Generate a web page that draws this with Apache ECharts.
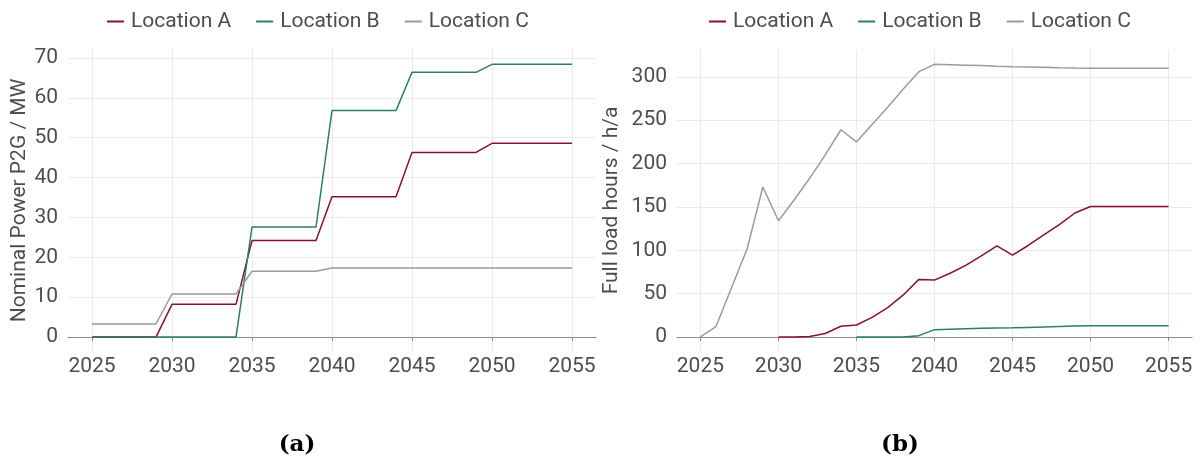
<!DOCTYPE html>
<html><head><meta charset="utf-8">
<script src="https://cdn.jsdelivr.net/npm/echarts@6/dist/echarts.min.js"></script>
<style>html,body{margin:0;padding:0;background:#fff;}#c{width:1200px;height:466px;}</style>
</head><body><div id="c"></div>
<script>
const years = [2025,2026,2027,2028,2029,2030,2031,2032,2033,2034,2035,2036,2037,2038,2039,2040,2041,2042,2043,2044,2045,2046,2047,2048,2049,2050,2051,2052,2053,2054,2055];
const seriesNames = ['Location A','Location B','Location C'];
const xTicks = [2025,2030,2035,2040,2045,2050,2055];
const powerTicks = [0,10,20,30,40,50,60,70];
const hoursTicks = [0,50,100,150,200,250,300];

// Nominal Power P2G / MW
const powerA = [0,0,0,0,0, 8.2,8.2,8.2,8.2,8.2, 24.2,24.2,24.2,24.2,24.2, 35.2,35.2,35.2,35.2,35.2, 46.3,46.3,46.3,46.3,46.3, 48.6,48.6,48.6,48.6,48.6,48.6];
const powerB = [0,0,0,0,0, 0,0,0,0,0, 27.6,27.6,27.6,27.6,27.6, 56.8,56.8,56.8,56.8,56.8, 66.4,66.4,66.4,66.4,66.4, 68.4,68.4,68.4,68.4,68.4,68.4];
const powerC = [3.3,3.3,3.3,3.3,3.3, 10.8,10.8,10.8,10.8,10.8, 16.5,16.5,16.5,16.5,16.5, 17.3,17.3,17.3,17.3,17.3, 17.3,17.3,17.3,17.3,17.3, 17.3,17.3,17.3,17.3,17.3,17.3];

// Full load hours / h/a
const hoursA = [null,null,null,null,null, 0,0,0.5,4,12.3, 13.8,22.6,33.8,48.5,66.4, 65.6,73.5,82.5,93.6,105, 94.5,105.5,117.8,129.5,143, 150.4,150.4,150.4,150.4,150.4,150.4];
const hoursB = [null,null,null,null,null, null,null,null,null,null, 0,0,0,0,1.5, 8.4,9,9.5,10,10.4, 10.5,11,11.5,12,12.5, 12.8,12.8,12.8,12.8,12.8,12.8];
const hoursC = [0,12,57,102,173, 134,158,183,210,239, 225,245,265,286,306, 314.5,314,313.5,313,312.3, 311.8,311.5,311,310.5,310.2, 310,310,310,310,310,310];

const colors = ['#85132a','#2b7d6d','#9b9b9b'];
const txt = '#4d4d4d';
const font = 'Roboto';
const fs = 21;

function pairs(vals){ return years.map((y,i)=>[y, vals[i]]); }

function xAxis(gi){
  return {
    type:'value', gridIndex:gi, min:2023.5, max:2056.5,
    axisLine:{show:true, lineStyle:{color:'#8c8c8c', width:1.2}},
    axisTick:{show:true, length:4, lineStyle:{color:'#8c8c8c'}, customValues:xTicks},
    axisLabel:{color:txt, fontFamily:font, fontSize:fs, margin:5, customValues:xTicks, formatter:v=>String(v)},
    splitLine:{show:true, lineStyle:{color:'#ebebeb', width:1}}
  };
}
function yAxis(gi, min, max, ticks, name, gap){
  return {
    type:'value', gridIndex:gi, min:min, max:max,
    name:name, nameLocation:'middle', nameGap:gap,
    nameTextStyle:{color:txt, fontFamily:font, fontSize:fs},
    axisLine:{show:false}, axisTick:{show:false, customValues:ticks},
    axisLabel:{color:txt, fontFamily:font, fontSize:fs, margin:10, customValues:ticks},
    splitLine:{show:true, lineStyle:{color:'#ebebeb', width:1}}
  };
}
function ser(name, vals, xi, ci){
  return {type:'line', name:name, xAxisIndex:xi, yAxisIndex:xi, data:pairs(vals),
    showSymbol:false, symbol:'none', connectNulls:false, animation:false,
    lineStyle:{width:1.5, color:colors[ci]}, itemStyle:{color:colors[ci]}};
}
function legend(left){
  return {left:left, top:6, itemWidth:17, itemHeight:2, icon:'rect', itemGap:25,
    textStyle:{color:txt, fontFamily:font, fontSize:fs, padding:[0,0,0,2]},
    data:seriesNames};
}

const chart = echarts.init(document.getElementById('c'), null, {renderer:'canvas'});
chart.setOption({
  animation:false,
  color:colors,
  grid:[
    {left:68, top:50, width:528, height:301},
    {left:677, top:50, width:515, height:301}
  ],
  legend:[legend(102), legend(704)],
  xAxis:[xAxis(0), xAxis(1)],
  yAxis:[yAxis(0,-3.5,72,powerTicks,'Nominal Power P2G / MW',38), yAxis(1,-16.2,331,hoursTicks,'Full load hours / h/a',55)],
  series:[
    ser(seriesNames[0], powerA, 0, 0),
    ser(seriesNames[1], powerB, 0, 1),
    ser(seriesNames[2], powerC, 0, 2),
    ser(seriesNames[0], hoursA, 1, 0),
    ser(seriesNames[1], hoursB, 1, 1),
    ser(seriesNames[2], hoursC, 1, 2)
  ],
  graphic:[
    {type:'text', x:297, y:445, style:{text:'(a)', fill:'#000', align:'center', verticalAlign:'middle', font:'bold 23px "DejaVu Serif"'}},
    {type:'text', x:900, y:445, style:{text:'(b)', fill:'#000', align:'center', verticalAlign:'middle', font:'bold 23px "DejaVu Serif"'}}
  ]
});
</script></body></html>
